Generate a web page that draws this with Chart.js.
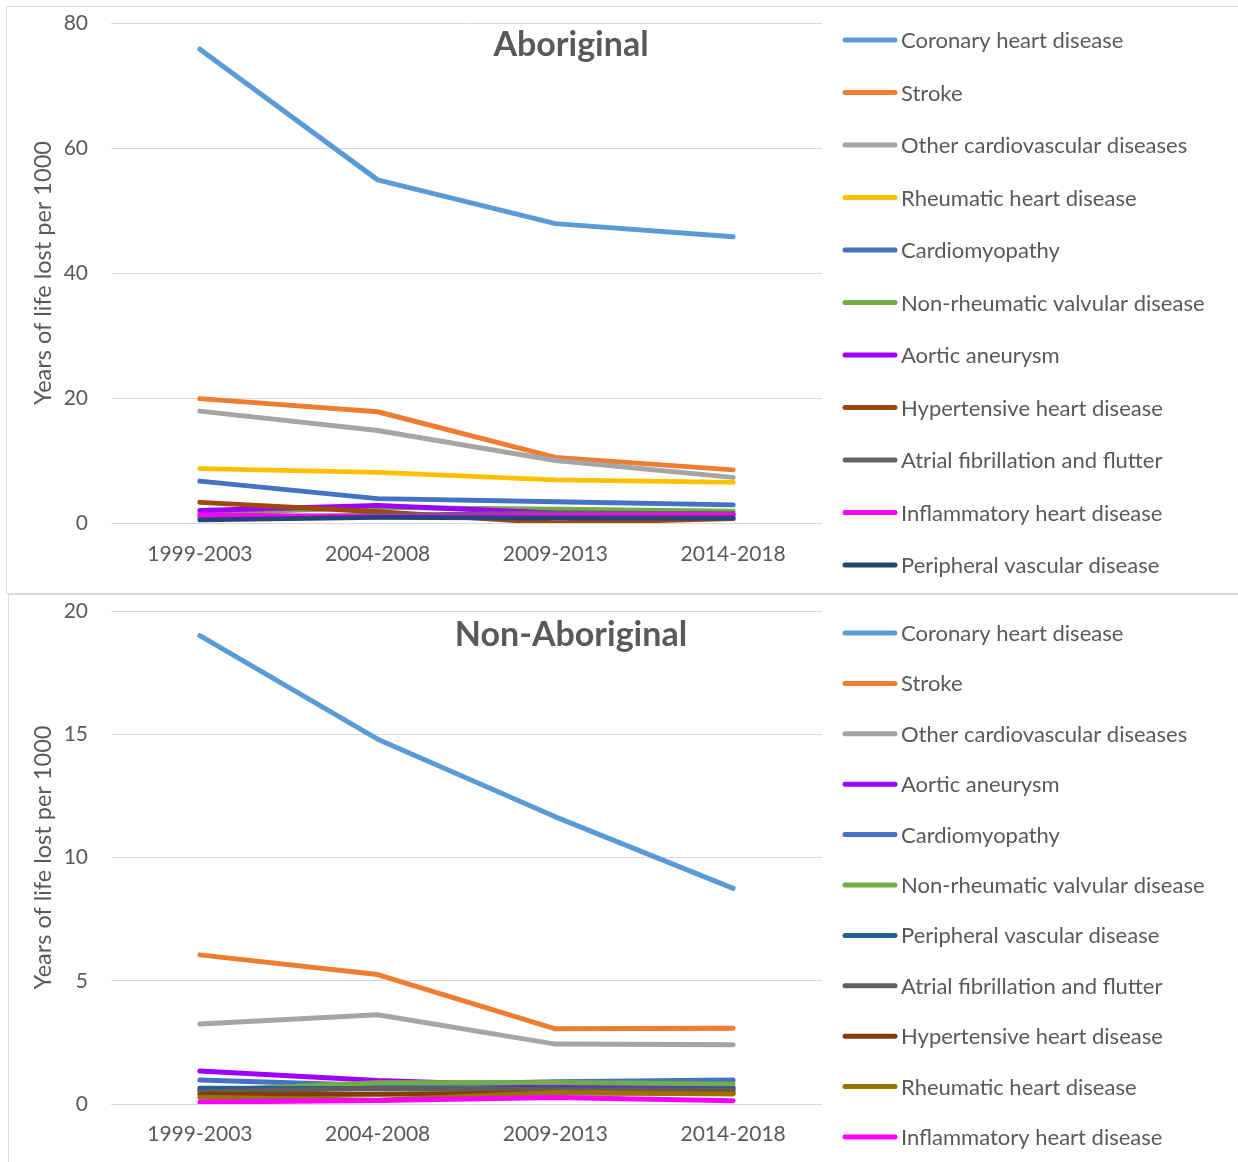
<!DOCTYPE html>
<html>
<head>
<meta charset="utf-8">
<script src="https://cdn.jsdelivr.net/npm/chart.js@4/dist/chart.umd.min.js"></script>
<style>
  html, body { margin: 0; padding: 0; background: #fff; }
  body { width: 1238px; height: 1162px; position: relative; overflow: hidden; }
  canvas { position: absolute; left: 0; }
  #cTop { top: 0; }
  #cBottom { top: 594px; }
  .frame { position: absolute; border: 1px solid #d9d9d9; box-sizing: border-box; pointer-events: none; }
</style>
</head>
<body>
<canvas id="cTop" width="1238" height="594"></canvas>
<canvas id="cBottom" width="1238" height="568"></canvas>
<div class="frame" style="left:6px;top:6px;width:1240px;height:588px;"></div>
<div class="frame" style="left:8px;top:594px;width:1240px;height:580px;"></div>
<script>
// Periods shared by both panels
const periods = ['1999-2003', '2004-2008', '2009-2013', '2014-2018'];

// ---- Aboriginal: years of life lost per 1000 ----
const aborigNames = [
  'Coronary heart disease', 'Stroke', 'Other cardiovascular diseases',
  'Rheumatic heart disease', 'Cardiomyopathy', 'Non-rheumatic valvular disease',
  'Aortic aneurysm', 'Hypertensive heart disease', 'Atrial fibrillation and flutter',
  'Inflammatory heart disease', 'Peripheral vascular disease'
];
const aborigCoronary       = [75.8, 54.9, 47.9, 45.8];
const aborigStroke         = [19.9, 17.8, 10.5, 8.5];
const aborigOtherCvd       = [17.9, 14.8, 10.0, 7.3];
const aborigRheumatic      = [8.7, 8.1, 6.9, 6.5];
const aborigCardiomyopathy = [6.7, 3.9, 3.4, 2.9];
const aborigNonRheumValv   = [1.5, 2.5, 2.2, 1.9];
const aborigAorticAneurysm = [2.0, 2.8, 1.6, 1.3];
const aborigHypertensive   = [3.3, 1.8, 0.0, 0.7];
const aborigAtrialFib      = [0.9, 1.2, 1.6, 1.5];
const aborigInflammatory   = [1.3, 1.0, 1.2, 1.3];
const aborigPeripheral     = [0.5, 0.9, 0.8, 0.8];
const aborigColors = ['#5B9BD5', '#ED7D31', '#A5A5A5', '#FFC000', '#4472C4', '#70AD47',
  '#9E00FF', '#9E480E', '#636363', '#FF00FF', '#264478'];
const aborigTicks = [0, 20, 40, 60, 80];

// ---- Non-Aboriginal: years of life lost per 1000 ----
const nonAborigNames = [
  'Coronary heart disease', 'Stroke', 'Other cardiovascular diseases',
  'Aortic aneurysm', 'Cardiomyopathy', 'Non-rheumatic valvular disease',
  'Peripheral vascular disease', 'Atrial fibrillation and flutter',
  'Hypertensive heart disease', 'Rheumatic heart disease', 'Inflammatory heart disease'
];
const nonCoronary       = [19.0, 14.8, 11.65, 8.75];
const nonStroke         = [6.05, 5.25, 3.05, 3.07];
const nonOtherCvd       = [3.25, 3.62, 2.43, 2.40];
const nonAorticAneurysm = [1.34, 0.95, 0.72, 0.66];
const nonCardiomyopathy = [0.97, 0.75, 0.90, 0.97];
const nonNonRheumValv   = [0.55, 0.86, 0.87, 0.81];
const nonPeripheral     = [0.64, 0.62, 0.62, 0.60];
const nonAtrialFib      = [0.50, 0.64, 0.58, 0.55];
const nonHypertensive   = [0.39, 0.40, 0.45, 0.45];
const nonRheumatic      = [0.27, 0.15, 0.47, 0.41];
const nonInflammatory   = [0.08, 0.14, 0.26, 0.13];
const nonAborigColors = ['#5B9BD5', '#ED7D31', '#A5A5A5', '#9E00FF', '#4472C4', '#70AD47',
  '#255E91', '#5E5E5E', '#843C0C', '#997300', '#FF00FF'];
const nonAborigTicks = [0, 5, 10, 15, 20];

const FONT = 'Lato, "Open Sans", sans-serif';
const TEXT = '#595959';
const GRID = '#d9d9d9';

function buildDatasets(names, series, colors) {
  const n = names.length;
  return names.map((name, i) => ({
    label: name,
    data: series[i],
    borderColor: colors[i],
    backgroundColor: colors[i],
    borderWidth: 5,
    borderCapStyle: 'round',
    borderJoinStyle: 'round',
    pointRadius: 0,
    tension: 0,
    fill: false,
    order: n - i            // later series are painted over earlier ones
  }));
}

// Draws the panel heading and a right-hand key of line swatches
function overlayPlugin(title, titleY, keyStart, keyStep) {
  return {
    id: 'overlay',
    afterDraw(chart) {
      const ctx = chart.ctx;
      ctx.save();
      ctx.fillStyle = TEXT;
      ctx.font = 'bold 34px ' + FONT;
      ctx.textAlign = 'center';
      ctx.textBaseline = 'middle';
      ctx.fillText(title, 571, titleY);

      ctx.font = '22px ' + FONT;
      ctx.textAlign = 'left';
      chart.data.datasets.forEach((ds, i) => {
        const y = keyStart + i * keyStep;
        ctx.strokeStyle = ds.borderColor;
        ctx.lineWidth = 5;
        ctx.lineCap = 'round';
        ctx.beginPath();
        ctx.moveTo(845, y);
        ctx.lineTo(895, y);
        ctx.stroke();
        ctx.fillStyle = TEXT;
        ctx.fillText(ds.label, 901, y + 1);
      });
      ctx.restore();
    }
  };
}

function makeChart(canvasId, names, series, colors, ticks, cfg) {
  const step = ticks[1] - ticks[0];
  return new Chart(document.getElementById(canvasId), {
    type: 'line',
    data: { labels: periods, datasets: buildDatasets(names, series, colors) },
    options: {
      responsive: false,
      devicePixelRatio: 1,
      animation: false,
      layout: { autoPadding: false, padding: { top: cfg.padTop, right: 416, bottom: 0, left: 0 } },
      plugins: { legend: { display: false }, tooltip: { enabled: false } },
      scales: {
        x: {
          offset: true,
          grid: { display: false, drawTicks: false },
          border: { display: false },
          ticks: { color: TEXT, font: { family: FONT, size: 21 }, padding: cfg.xPad, maxRotation: 0 },
          afterFit(scale) { scale.height = cfg.xHeight; }
        },
        y: {
          min: ticks[0],
          max: ticks[ticks.length - 1],
          afterBuildTicks(scale) { scale.ticks = ticks.map(v => ({ value: v })); },
          grid: { color: GRID, lineWidth: 1, drawTicks: false },
          border: { display: false },
          ticks: { color: TEXT, font: { family: FONT, size: 21 }, padding: 23, stepSize: step },
          title: {
            display: true,
            text: 'Years of life lost per 1000',
            color: TEXT,
            font: { family: FONT, size: 23.5 },
            padding: { top: 29, bottom: 0 }
          },
          afterFit(scale) {
            scale.width = 111;
            scale.paddingTop = 0;
            scale.paddingBottom = 0;
          }
        }
      }
    },
    plugins: [overlayPlugin(cfg.title, cfg.titleY, cfg.keyStart, cfg.keyStep)]
  });
}

makeChart('cTop', aborigNames,
  [aborigCoronary, aborigStroke, aborigOtherCvd, aborigRheumatic, aborigCardiomyopathy,
   aborigNonRheumValv, aborigAorticAneurysm, aborigHypertensive, aborigAtrialFib,
   aborigInflammatory, aborigPeripheral],
  aborigColors, aborigTicks,
  { title: 'Aboriginal', titleY: 45, padTop: 23, xHeight: 71, xPad: 19, keyStart: 40, keyStep: 52.5 });

makeChart('cBottom', nonAborigNames,
  [nonCoronary, nonStroke, nonOtherCvd, nonAorticAneurysm, nonCardiomyopathy,
   nonNonRheumValv, nonPeripheral, nonAtrialFib, nonHypertensive, nonRheumatic,
   nonInflammatory],
  nonAborigColors, nonAborigTicks,
  { title: 'Non-Aboriginal', titleY: 41, padTop: 17, xHeight: 58, xPad: 18, keyStart: 39, keyStep: 50.4 });
</script>
</body>
</html>
